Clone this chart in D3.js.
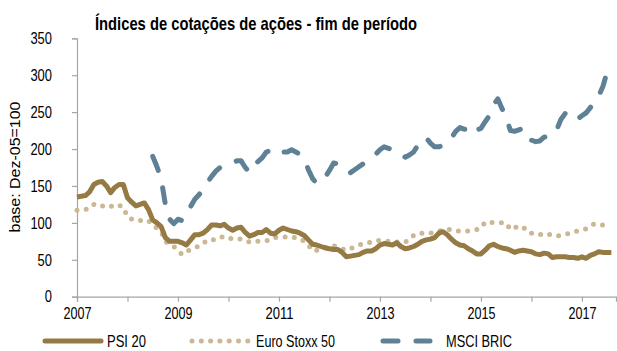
<!DOCTYPE html>
<html>
<head>
<meta charset="utf-8">
<script src="https://cdn.jsdelivr.net/npm/d3@7"></script>
<style>
  html, body { margin: 0; padding: 0; background: #fff; }
  svg { display: block; font-family: "Liberation Sans", Arial, sans-serif; }
</style>
</head>
<body>
<svg id="chart" width="617" height="351"></svg>
<script>
// Monthly index levels, Jan 2007 – Aug 2017 (base: Dec 2005 = 100)
const startYear = 2007;
const yearTicks = [2007, 2008, 2009, 2010, 2011, 2012, 2013, 2014, 2015, 2016, 2017];
const yearLabels = ["2007", "2009", "2011", "2013", "2015", "2017"];
const valueTicks = [0, 50, 100, 150, 200, 250, 300, 350];

const psi20 = [
  135, 136, 137, 142, 152, 155, 156, 150, 141, 148, 152, 152,
  134, 128, 123, 125, 127, 118, 104, 100, 95, 80, 75, 75,
  75, 73, 70, 77, 84, 84, 86, 91, 97, 97, 96, 98,
  93, 90, 93, 94, 87, 82, 84, 87, 87, 91, 86, 85,
  90, 93, 91, 89, 88, 86, 83, 77, 71, 70, 68, 66,
  65, 64, 64, 60, 54, 55, 56, 57, 60, 62, 62, 65,
  70, 72, 71, 70, 73, 68, 65, 66, 68, 71, 75, 77,
  78, 80, 86, 88, 84, 78, 73, 70, 69, 65, 62, 58,
  58, 63, 69, 71, 68, 66, 65, 63, 60, 62, 63, 62,
  61, 58, 57, 59, 58, 53, 54, 54, 54, 53, 53, 52,
  54, 52, 56, 58, 61, 60, 60, 60
];

const euroStoxx50 = [
  117, 117, 118, 120, 125, 126, 123, 121, 122, 125, 124, 121,
  108, 105, 103, 103, 104, 103, 96, 93, 88, 75, 70, 68,
  62, 57, 61, 64, 67, 68, 72, 77, 77, 77, 80, 82,
  80, 78, 78, 78, 77, 74, 74, 75, 76, 76, 77, 80,
  81, 81, 81, 81, 80, 79, 75, 70, 62, 63, 65, 67,
  69, 69, 67, 65, 63, 65, 68, 70, 72, 73, 74, 76,
  76, 75, 75, 75, 74, 73, 74, 77, 83, 86, 86, 86,
  86, 88, 89, 90, 91, 91, 89, 89, 89, 89, 90, 91,
  93, 101, 101, 100, 100, 100, 100, 91, 93, 96, 93, 92,
  86, 84, 84, 86, 85, 83, 82, 83, 84, 86, 88, 89,
  91, 92, 96, 99, 98, 97, 96, 95
];

// MSCI BRIC is only available from Jul 2008 onwards
const msciBric = [
  null, null, null, null, null, null, null, null, null, null, null, null,
  null, null, null, null, null, null, 190, 176, 160, 125, 105, 99,
  105, 103, 110, 122, 132, 138, 146, 155, 163, 170, 175, 178,
  180, 182, 184, 184, 175, 168, 176, 183, 188, 196, 198, 193,
  195, 196, 196, 199, 196, 193, 186, 172, 160, 153, 158, 162,
  171, 181, 180, 178, 175, 168, 172, 176, 180, 184, 188, 193,
  199, 203, 201, 199, 197, 193, 189, 192, 196, 205, 214, 215,
  208, 203, 203, 205, 209, 215, 224, 229, 227, 226, 232, 226,
  228, 237, 245, 260, 268, 255, 243, 225, 224, 226, 228, 224,
  212, 210, 211, 216, 217, 219, 226, 240, 248, 246, 239, 241,
  245, 249, 256, 264, 272, 285, 305, 312
];

const seriesNames = ["PSI 20", "Euro Stoxx 50", "MSCI BRIC"];

const colors = { psi: "#957A43", stoxx: "#CBB794", bric: "#5E8196" };
const axisColor = "#A6A6A6";

// Narrow lettering: each label is squeezed to a fixed width
const narrow = (sel, w) => sel.attr("textLength", w).attr("lengthAdjust", "spacingAndGlyphs");

const svg = d3.select("#chart");
const margin = { left: 77, right: 1 };
const width = 617;

const x = d3.scaleLinear()
  .domain([0, 128.1])
  .range([margin.left, width - margin.right]);
const y = d3.scaleLinear()
  .domain([0, 350])
  .range([296.7, 38.3]);

// Title
narrow(svg.append("text")
  .attr("x", 95).attr("y", 30)
  .attr("font-size", 19).attr("font-weight", "bold")
  .attr("fill", "#000")
  .text("Índices de cotações de ações - fim de período"), 322);

// Y axis
const yAxis = svg.append("g")
  .attr("transform", `translate(${margin.left},0)`)
  .call(d3.axisLeft(y).tickValues(valueTicks).tickSize(5));
yAxis.select(".domain").attr("stroke", axisColor).attr("stroke-width", 1.2);
yAxis.selectAll(".tick line").attr("stroke", axisColor).attr("stroke-width", 1.2);
yAxis.selectAll(".tick text")
  .attr("x", -25)
  .attr("font-size", 16.5).attr("fill", "#000")
  .attr("font-family", "Liberation Sans, Arial, sans-serif")
  .each(function () { narrow(d3.select(this), this.textContent.length * 7.2); });

// X axis (month index; ticks at each January)
const xAxis = svg.append("g")
  .attr("transform", `translate(0,${y(0)})`)
  .call(d3.axisBottom(x)
    .tickValues(yearTicks.map(yr => (yr - startYear) * 12))
    .tickSize(5).tickPadding(6)
    .tickFormat(v => {
      const s = String(startYear + v / 12);
      return yearLabels.includes(s) ? s : "";
    }));
xAxis.select(".domain").attr("stroke", axisColor).attr("stroke-width", 1.2);
xAxis.selectAll(".tick line").attr("stroke", axisColor).attr("stroke-width", 1.2);
xAxis.selectAll(".tick text")
  .attr("font-size", 16.5).attr("fill", "#000")
  .attr("font-family", "Liberation Sans, Arial, sans-serif")
  .each(function () { if (this.textContent) narrow(d3.select(this), 28); });

// Y axis title
narrow(svg.append("text")
  .attr("transform", "translate(20,167) rotate(-90)")
  .attr("text-anchor", "middle")
  .attr("font-size", 15.5).attr("fill", "#000")
  .text("base: Dez-05=100"), 131);

const line = d3.line()
  .defined(d => d != null)
  .x((d, i) => x(i))
  .y(d => y(d))
  .curve(d3.curveLinear);

const plot = svg.append("g");

plot.append("path")
  .datum(msciBric)
  .attr("d", line)
  .attr("fill", "none")
  .attr("stroke", colors.bric)
  .attr("stroke-width", 5)
  .attr("stroke-linecap", "round")
  .attr("stroke-linejoin", "round")
  .attr("stroke-dasharray", "15,18");

plot.append("path")
  .datum(euroStoxx50)
  .attr("d", line)
  .attr("fill", "none")
  .attr("stroke", colors.stoxx)
  .attr("stroke-width", 5)
  .attr("stroke-linecap", "round")
  .attr("stroke-dasharray", "0,9.3");

plot.append("path")
  .datum(psi20)
  .attr("d", line)
  .attr("fill", "none")
  .attr("stroke", colors.psi)
  .attr("stroke-width", 5)
  .attr("stroke-linejoin", "round");

// Legend
const legendY = 341;
const legend = svg.append("g");
const items = [
  { name: seriesNames[0], color: colors.psi, x1: 45, x2: 101, dash: null, tx: 107, tw: 39 },
  { name: seriesNames[1], color: colors.stoxx, x1: 192, x2: 248, dash: "0,9.3", tx: 256, tw: 79 },
  { name: seriesNames[2], color: colors.bric, x1: 383, x2: 430, dash: "15,18", tx: 446, tw: 66 }
];
items.forEach(it => {
  const l = legend.append("line")
    .attr("x1", it.x1).attr("x2", it.x2)
    .attr("y1", legendY).attr("y2", legendY)
    .attr("stroke", it.color).attr("stroke-width", 5)
    .attr("stroke-linecap", "round");
  if (it.dash) l.attr("stroke-dasharray", it.dash);
  narrow(legend.append("text")
    .attr("x", it.tx).attr("y", legendY + 6)
    .attr("font-size", 16.5).attr("fill", "#000")
    .text(it.name), it.tw);
});
</script>
</body>
</html>
